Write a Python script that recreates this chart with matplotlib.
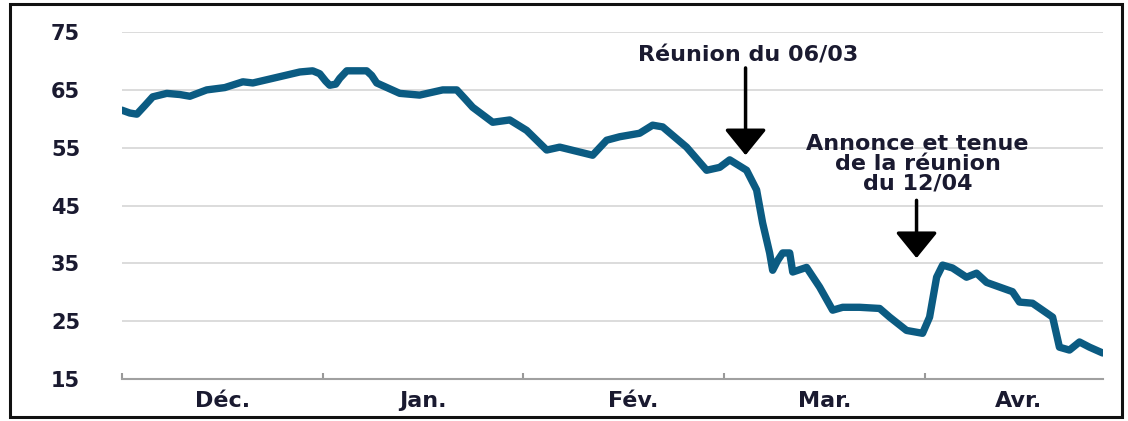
import numpy as np
import matplotlib
matplotlib.use("Agg")
import matplotlib.pyplot as plt
from matplotlib.patches import Rectangle

# ---- data: x in months since start of December, y = indice ----
x_month = [0.000, 0.040, 0.075, 0.115, 0.154, 0.224, 0.289, 0.339, 0.423, 0.513,
           0.603, 0.653, 0.752, 0.887, 0.951, 0.986, 1.016, 1.036, 1.066, 1.086,
           1.121, 1.220, 1.245, 1.270, 1.385, 1.484, 1.599, 1.669, 1.709, 1.748,
           1.848, 1.933, 2.017, 2.117, 2.182, 2.346, 2.416, 2.481, 2.580, 2.645,
           2.695, 2.814, 2.914, 2.979, 3.029, 3.113, 3.163, 3.193, 3.228, 3.243,
           3.268, 3.293, 3.328, 3.343, 3.412, 3.477, 3.542, 3.592, 3.676, 3.776,
           3.826, 3.910, 3.990, 4.025, 4.060, 4.090, 4.139, 4.209, 4.259, 4.309,
           4.438, 4.473, 4.538, 4.638, 4.672, 4.722, 4.772, 4.822, 4.887]
values = [61.5, 61.0, 60.8, 62.3, 63.8, 64.4, 64.2, 63.9, 65.0, 65.4,
          66.4, 66.2, 67.0, 68.1, 68.3, 67.8, 66.5, 65.8, 66.0, 67.0,
          68.3, 68.3, 67.5, 66.2, 64.4, 64.1, 65.0, 65.0, 63.5, 62.0,
          59.4, 59.8, 58.0, 54.6, 55.1, 53.7, 56.3, 56.9, 57.5, 58.9,
          58.6, 55.1, 51.1, 51.6, 52.9, 51.1, 47.7, 42.0, 36.8, 33.8,
          35.5, 36.8, 36.8, 33.5, 34.3, 30.9, 26.9, 27.4, 27.4, 27.2,
          25.7, 23.4, 22.9, 25.7, 32.6, 34.7, 34.2, 32.6, 33.3, 31.7,
          30.1, 28.3, 28.1, 25.7, 20.5, 20.0, 21.4, 20.5, 19.5]

month_ticks = [0, 1, 2, 3, 4]
month_label_pos = [0.5, 1.5, 2.55, 3.5, 4.47]
month_labels = ["Déc.", "Jan.", "Fév.", "Mar.", "Avr."]
y_ticks = [15, 25, 35, 45, 55, 65, 75]

# annotations: (text, text x, text y, arrow x, arrow top, arrow tip)
notes = [("Réunion du 06/03", 3.123, 71.0, 3.108, 68.8, 53.7),
         ("Annonce et tenue\nde la réunion\ndu 12/04", 3.965, 52.2, 3.960, 45.9, 35.9)]

line_color = "#0b5b82"
text_color = "#1a1a30"

fig = plt.figure(figsize=(11.28, 4.21), dpi=100)
ax = fig.add_axes([0.108, 0.0998, 0.870, 0.824])

ax.plot(x_month, values, color=line_color, lw=5.3, solid_joinstyle="round",
        solid_capstyle="round", zorder=3)

ax.set_xlim(0, 4.89)
ax.set_ylim(15, 75)
ax.set_yticks(y_ticks)
ax.set_yticklabels([str(v) for v in y_ticks], fontsize=15, fontweight="bold",
                   color=text_color)
ax.tick_params(axis="y", length=0, pad=30)
for v in y_ticks[1:]:
    ax.axhline(v, color="#d9d9d9", lw=1.3, zorder=1)

ax.set_xticks(month_ticks)
ax.set_xticklabels([])
ax.tick_params(axis="x", which="major", direction="in", length=4,
               color="#999999", width=1.5)
ax.set_xticks(month_label_pos, minor=True)
ax.set_xticklabels(month_labels, minor=True, fontsize=16, fontweight="bold",
                   color=text_color)
ax.tick_params(axis="x", which="minor", length=0, pad=9)

for s in ["top", "right", "left"]:
    ax.spines[s].set_visible(False)
ax.spines["bottom"].set_color("#a0a0a0")
ax.spines["bottom"].set_linewidth(1.5)

for txt, tx, ty, axx, y0, y1 in notes:
    ax.text(tx, ty, txt, ha="center", va="center", fontsize=16,
            fontweight="bold", color=text_color, linespacing=1.0, zorder=4)
    ax.annotate("", xy=(axx, y1), xytext=(axx, y0),
                arrowprops=dict(arrowstyle="-|>,head_length=0.8,head_width=0.65",
                                color="black", lw=2.5, mutation_scale=20,
                                shrinkA=0, shrinkB=0), zorder=4)

# black frame around the whole picture
fig.patches.append(Rectangle((0.009, 0.0095), 0.986, 0.981, transform=fig.transFigure,
                             fill=False, edgecolor="#111111", lw=2.2))

fig.savefig("out.png", dpi=100)
